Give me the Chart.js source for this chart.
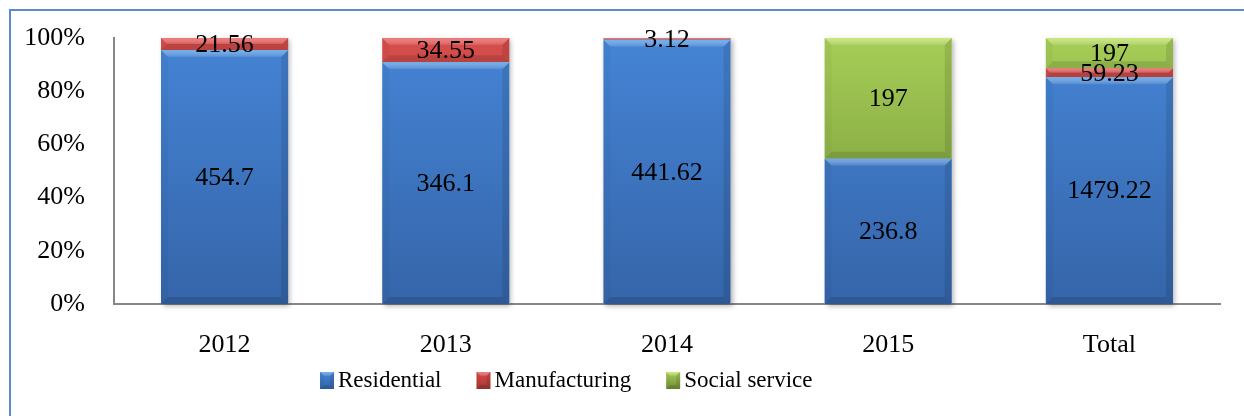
<!DOCTYPE html>
<html>
<head>
<meta charset="utf-8">
<script src="https://cdn.jsdelivr.net/npm/chart.js@4/dist/chart.umd.min.js"></script>
<style>
  html, body { margin: 0; padding: 0; background: #ffffff; }
  #wrap { position: relative; width: 1244px; height: 416px; }
</style>
</head>
<body>
<div id="wrap"><canvas id="c" width="1244" height="416"></canvas></div>
<script>
// ---- data ----
const categories = ['2012', '2013', '2014', '2015', 'Total'];
const seriesNames = ['Residential', 'Manufacturing', 'Social service'];
const residential = [454.7, 346.1, 441.62, 236.8, 1479.22];
const manufacturing = [21.56, 34.55, 3.12, 0, 59.23];
const socialService = [0, 0, 0, 197, 197];
const yTickValues = [0, 20, 40, 60, 80, 100];

// ---- derived: 100% stacked shares ----
const rawSeries = [residential, manufacturing, socialService];
const totals = categories.map((_, i) => rawSeries.reduce((s, arr) => s + arr[i], 0));
const shares = rawSeries.map(arr => arr.map((v, i) => v / totals[i] * 100));

const FONT = "'Liberation Serif', 'Times New Roman', serif";
const palette = [
  { top: '#4584D5', bottom: '#3565A9', light: 'rgba(140,205,255,0.6)' },
  { top: '#D64E4B', bottom: '#A33634', light: 'rgba(255,150,150,0.6)' },
  { top: '#A6CD57', bottom: '#6F8E33', light: 'rgba(230,255,140,0.6)' }
];

function gradientFor(idx) {
  return (ctx) => {
    const chart = ctx.chart;
    const area = chart.chartArea;
    if (!area) return palette[idx].top;
    const g = chart.ctx.createLinearGradient(0, area.top, 0, area.bottom);
    g.addColorStop(0, palette[idx].top);
    g.addColorStop(1, palette[idx].bottom);
    return g;
  };
}

function drawBevel(ctx, x0, y0, x1, y1, b, light) {
  const h = y1 - y0, w = x1 - x0;
  b = Math.min(b, h / 2, w / 2);
  if (b <= 0) return;
  ctx.save();
  // top
  ctx.beginPath();
  ctx.moveTo(x0, y0); ctx.lineTo(x1, y0); ctx.lineTo(x1 - b, y0 + b); ctx.lineTo(x0 + b, y0 + b); ctx.closePath();
  const tg = ctx.createLinearGradient(0, y0, 0, y0 + b);
  tg.addColorStop(0, light);
  tg.addColorStop(1, 'rgba(255,255,255,0.08)');
  ctx.fillStyle = tg; ctx.fill();
  // bottom
  ctx.beginPath();
  ctx.moveTo(x0, y1); ctx.lineTo(x1, y1); ctx.lineTo(x1 - b, y1 - b); ctx.lineTo(x0 + b, y1 - b); ctx.closePath();
  ctx.fillStyle = 'rgba(0,0,0,0.12)'; ctx.fill();
  // left
  ctx.beginPath();
  ctx.moveTo(x0, y0); ctx.lineTo(x0 + b, y0 + b); ctx.lineTo(x0 + b, y1 - b); ctx.lineTo(x0, y1); ctx.closePath();
  ctx.fillStyle = 'rgba(0,0,0,0.03)'; ctx.fill();
  // right
  ctx.beginPath();
  ctx.moveTo(x1, y0); ctx.lineTo(x1 - b, y0 + b); ctx.lineTo(x1 - b, y1 - b); ctx.lineTo(x1, y1); ctx.closePath();
  ctx.fillStyle = 'rgba(0,0,0,0.1)'; ctx.fill();
  ctx.restore();
}

const framePlugin = {
  id: 'frame',
  beforeDraw(chart) {
    const ctx = chart.ctx;
    ctx.save();
    ctx.strokeStyle = '#5B8BC8';
    ctx.lineWidth = 2;
    ctx.beginPath();
    ctx.moveTo(1244, 10); ctx.lineTo(10, 10); ctx.lineTo(10, 416);
    ctx.stroke();
    ctx.restore();
  }
};

const shadowPlugin = {
  id: 'barShadow',
  beforeDatasetsDraw(chart) {
    const ctx = chart.ctx;
    const metas = chart.data.datasets.map((_, i) => chart.getDatasetMeta(i));
    ctx.save();
    ctx.shadowColor = 'rgba(0,0,0,0.3)';
    ctx.shadowBlur = 5;
    ctx.shadowOffsetX = 2;
    ctx.shadowOffsetY = 2;
    ctx.fillStyle = '#ffffff';
    categories.forEach((_, i) => {
      let top = Infinity, base = -Infinity, x0 = 0, w = 0;
      metas.forEach(m => {
        const el = m.data[i];
        if (!el) return;
        top = Math.min(top, el.y, el.base);
        base = Math.max(base, el.y, el.base);
        x0 = el.x - el.width / 2; w = el.width;
      });
      ctx.fillRect(x0, top, w, base - top);
    });
    ctx.restore();
  }
};

const bevelLabelPlugin = {
  id: 'bevelLabels',
  afterDatasetsDraw(chart) {
    const ctx = chart.ctx;
    chart.data.datasets.forEach((ds, di) => {
      const meta = chart.getDatasetMeta(di);
      meta.data.forEach((el, i) => {
        if (!rawSeries[di][i]) return;
        const x0 = el.x - el.width / 2, x1 = el.x + el.width / 2;
        const y0 = Math.min(el.y, el.base), y1 = Math.max(el.y, el.base);
        drawBevel(ctx, x0, y0, x1, y1, 7, palette[di].light);
      });
    });
    ctx.save();
    ctx.font = '26px ' + FONT;
    ctx.fillStyle = '#000000';
    ctx.textAlign = 'center';
    ctx.textBaseline = 'middle';
    chart.data.datasets.forEach((ds, di) => {
      const meta = chart.getDatasetMeta(di);
      meta.data.forEach((el, i) => {
        const v = rawSeries[di][i];
        if (!v) return;
        ctx.fillText(String(v), el.x, (el.y + el.base) / 2 + 1);
      });
    });
    ctx.restore();
  }
};

const legendPlugin = {
  id: 'customLegend',
  afterDraw(chart) {
    const ctx = chart.ctx;
    ctx.save();
    ctx.font = '23px ' + FONT;
    ctx.textBaseline = 'middle';
    ctx.textAlign = 'left';
    let x = 320;
    const boxW = 14, boxH = 17, boxTop = 372, textY = 381;
    seriesNames.forEach((name, i) => {
      const g = ctx.createLinearGradient(0, boxTop, 0, boxTop + boxH);
      g.addColorStop(0, palette[i].top);
      g.addColorStop(1, palette[i].bottom);
      ctx.fillStyle = g;
      ctx.fillRect(x, boxTop, boxW, boxH);
      drawBevel(ctx, x, boxTop, x + boxW, boxTop + boxH, 4, palette[i].light);
      ctx.fillStyle = '#000000';
      ctx.fillText(name, x + boxW + 4, textY);
      x += boxW + 4 + ctx.measureText(name).width + 35;
    });
    ctx.restore();
  }
};

new Chart(document.getElementById('c'), {
  type: 'bar',
  data: {
    labels: categories,
    datasets: seriesNames.map((name, i) => ({
      label: name,
      data: shares[i],
      backgroundColor: gradientFor(i),
      borderWidth: 0,
      categoryPercentage: 0.575,
      barPercentage: 1.0
    }))
  },
  options: {
    responsive: false,
    animation: false,
    devicePixelRatio: 1,
    layout: { padding: { top: 38, right: 24, bottom: 0, left: 0 } },
    plugins: {
      legend: { display: false },
      tooltip: { enabled: false },
      title: { display: false }
    },
    scales: {
      x: {
        stacked: true,
        grid: { display: false, drawTicks: false },
        border: { display: true, color: '#868686', width: 2 },
        ticks: { color: '#000000', font: { family: FONT, size: 26 }, padding: 26 },
        afterFit(scale) { scale.height = 112; }
      },
      y: {
        stacked: true,
        min: 0,
        max: 100,
        afterBuildTicks(scale) { scale.ticks = yTickValues.map(v => ({ value: v })); },
        grid: { display: false, drawTicks: false },
        border: { display: true, color: '#868686', width: 2 },
        ticks: {
          color: '#000000',
          font: { family: FONT, size: 26 },
          padding: 29,
          callback: (v) => v + '%'
        },
        afterFit(scale) {
          scale.width = 114;
          scale.paddingTop = 0;
          scale.paddingBottom = 0;
        }
      }
    }
  },
  plugins: [framePlugin, shadowPlugin, bevelLabelPlugin, legendPlugin]
});
</script>
</body>
</html>
